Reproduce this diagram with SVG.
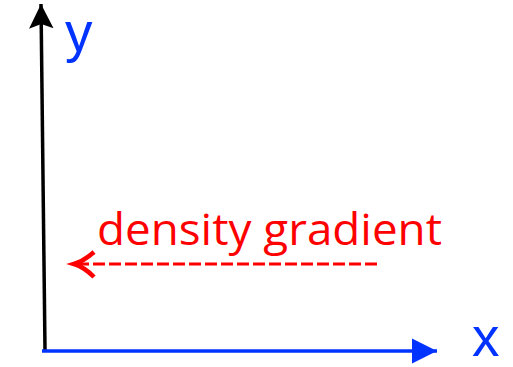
<svg xmlns="http://www.w3.org/2000/svg" width="513" height="367" viewBox="0 0 513 367">
  <style>
    .lbl { font-family: "Open Sans", "Liberation Sans", Arial, sans-serif; }
    .axis-label { font-family: "Liberation Sans", Arial, sans-serif; fill: #0033ff; font-size: 55px; }
  </style>
  <defs>
    <!-- notched arrowhead for the vertical axis -->
    <marker id="headBlack" viewBox="0 0 10 10" refX="10" refY="5" markerWidth="7" markerHeight="7" markerUnits="strokeWidth" orient="auto">
      <path d="M0,0 L10,5 L0,10 L1.8,5 z" fill="#000"/>
    </marker>
    <marker id="headBlue" viewBox="0 0 10 10" refX="10" refY="5" markerWidth="7.2" markerHeight="7.2" markerUnits="strokeWidth" orient="auto">
      <path d="M0,0 L10,5 L0,10 z" fill="#0033ff"/>
    </marker>
  </defs>

  <g id="connectors">
    <!-- vertical axis -->
    <line x1="45" y1="350" x2="41" y2="4" stroke="#000" stroke-width="3.5" marker-end="url(#headBlack)"/>
    <!-- horizontal axis -->
    <line x1="42" y1="351" x2="437" y2="351" stroke="#0033ff" stroke-width="3.5" marker-end="url(#headBlue)"/>
    <!-- gradient direction, dashed -->
    <line x1="377" y1="264" x2="78" y2="264" stroke="#ff0000" stroke-width="3" stroke-dasharray="12 4"/>
    <path d="M94,252 Q84,261 74,264 Q84,267 94,277" fill="none" stroke="#ff0000" stroke-width="4.5" stroke-linejoin="miter"/>
  </g>

  <g id="label-y">
    <text class="axis-label" x="65" y="51">y</text>
  </g>
  <g id="label-x">
    <text class="axis-label" x="472" y="356">x</text>
  </g>
  <g id="label-gradient">
    <text class="lbl" x="97" y="245" font-size="44" fill="#ff0000" textLength="345" lengthAdjust="spacingAndGlyphs">density gradient</text>
  </g>
</svg>
